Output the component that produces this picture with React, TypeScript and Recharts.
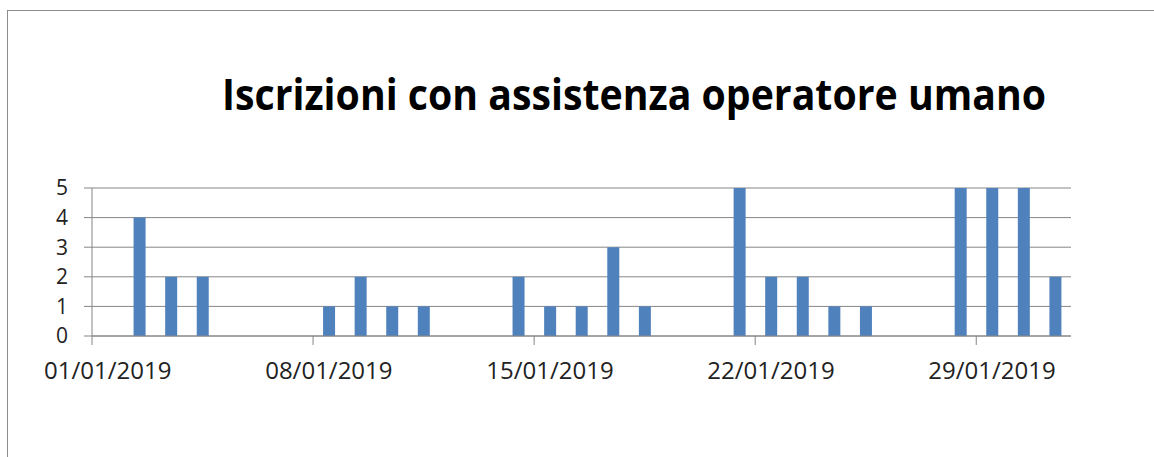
import { BarChart, Bar, XAxis, YAxis, CartesianGrid } from 'recharts';

const days = [
  '01/01/2019', '02/01/2019', '03/01/2019', '04/01/2019', '05/01/2019', '06/01/2019', '07/01/2019',
  '08/01/2019', '09/01/2019', '10/01/2019', '11/01/2019', '12/01/2019', '13/01/2019', '14/01/2019',
  '15/01/2019', '16/01/2019', '17/01/2019', '18/01/2019', '19/01/2019', '20/01/2019', '21/01/2019',
  '22/01/2019', '23/01/2019', '24/01/2019', '25/01/2019', '26/01/2019', '27/01/2019', '28/01/2019',
  '29/01/2019', '30/01/2019', '31/01/2019',
];
const iscrizioni = [0, 4, 2, 2, 0, 0, 0, 1, 2, 1, 1, 0, 0, 2, 1, 1, 3, 1, 0, 0, 5, 2, 2, 1, 1, 0, 0, 5, 5, 5, 2];
const yTicks = [0, 1, 2, 3, 4, 5];
const title = 'Iscrizioni con assistenza operatore umano';

const chartData = days.map((day, i) => ({ day, value: iscrizioni[i] }));

const W = 1154;
const H = 457;
const PLOT_LEFT = 92;
const PLOT_RIGHT = 1071;
const PLOT_TOP = 188;
const PLOT_BOTTOM = 336;
const X_AXIS_H = 50;
const SLOT = (PLOT_RIGHT - PLOT_LEFT) / days.length;
const GRID = '#868686';

function DateTick({ x, y, payload }: any) {
  // excel puts the tick mark on the boundary before the day, label in the middle
  const edge = x - SLOT / 2;
  return (
    <g>
      <line x1={edge} x2={edge} y1={y} y2={y + 9} stroke={GRID} />
      <text x={x} y={y + 43} textAnchor="middle" fontSize={24} fill="#222">
        {payload.value}
      </text>
    </g>
  );
}

export default function App() {
  return (
    <div
      style={{
        position: 'absolute',
        left: 0,
        top: 0,
        width: W,
        height: H,
        overflow: 'hidden',
        background: '#fff',
        fontFamily: '"Open Sans", sans-serif',
      }}
    >
      <div
        style={{
          position: 'absolute',
          left: 7,
          top: 10,
          width: W + 40,
          height: H + 40,
          border: '1px solid #8c8c8c',
        }}
      />
      <svg width={W} height={130} style={{ position: 'absolute', left: 0, top: 0 }}>
        <text
          x={222}
          y={110}
          fontSize={43}
          fontWeight="bold"
          fill="#000"
          textLength={824}
          lengthAdjust="spacingAndGlyphs"
        >
          {title}
        </text>
      </svg>
      <div style={{ position: 'absolute', left: 0, top: 0 }}>
        <BarChart
          width={W}
          height={H}
          data={chartData}
          margin={{ top: PLOT_TOP, right: W - PLOT_RIGHT, left: 0, bottom: H - PLOT_BOTTOM - X_AXIS_H }}
        >
          <CartesianGrid vertical={false} stroke={GRID} strokeDasharray="" />
          <XAxis
            dataKey="day"
            interval={6}
            height={X_AXIS_H}
            tickSize={0}
            tickMargin={0}
            tickLine={false}
            axisLine={{ stroke: GRID }}
            tick={<DateTick />}
          />
          <YAxis
            width={PLOT_LEFT}
            domain={[0, 5]}
            ticks={yTicks}
            interval={0}
            tickSize={8}
            tickMargin={16}
            tickLine={{ stroke: GRID }}
            axisLine={{ stroke: GRID }}
            tick={{ fontSize: 21, fill: '#222' }}
          />
          <Bar dataKey="value" fill="#4F81BD" barSize={12} isAnimationActive={false} />
        </BarChart>
      </div>
    </div>
  );
}
